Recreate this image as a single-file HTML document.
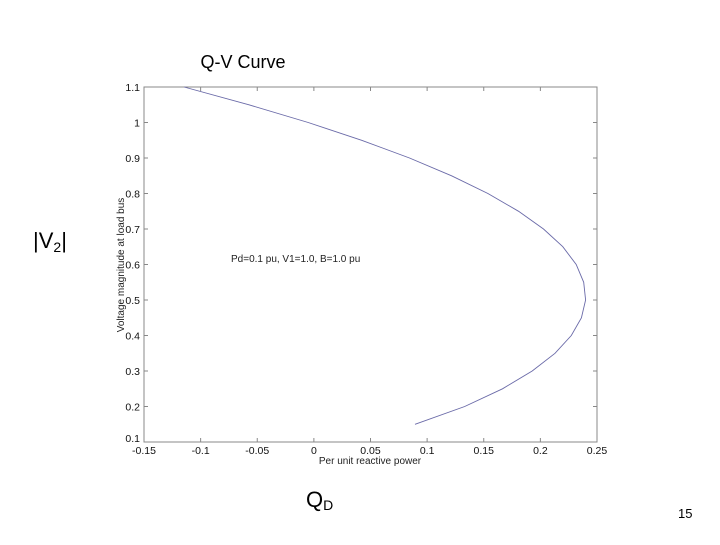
<!DOCTYPE html>
<html><head><meta charset="utf-8"><style>
body{margin:0;background:#fff;width:720px;height:540px;overflow:hidden;font-family:"Liberation Sans",sans-serif}
</style></head><body>
<svg width="720" height="540" xmlns="http://www.w3.org/2000/svg">
<text x="243" y="68" font-size="18" text-anchor="middle" fill="#000">Q-V Curve</text>
<text x="33" y="248" font-size="22" fill="#000">|V<tspan font-size="14" dy="4">2</tspan><tspan dy="-4">|</tspan></text>
<text x="306" y="507" font-size="22" fill="#000">Q<tspan font-size="14" dy="3">D</tspan></text>
<text x="678" y="518" font-size="13" fill="#000">15</text>
<g id="axes"></g>
<g id="series"></g>
<text x="231" y="262" font-size="10" fill="#222">Pd=0.1 pu, V1=1.0, B=1.0 pu</text>
<text transform="translate(124,265) rotate(-90)" font-size="10" text-anchor="middle" fill="#222">Voltage magnitude at load bus</text>
<text x="370" y="464" font-size="10" text-anchor="middle" fill="#222">Per unit reactive power</text>
</svg>
<script>
const xTicks=[-0.15,-0.1,-0.05,0,0.05,0.1,0.15,0.2,0.25];
const xTickLabels=["-0.15","-0.1","-0.05","0","0.05","0.1","0.15","0.2","0.25"];
const yTicks=[0.1,0.2,0.3,0.4,0.5,0.6,0.7,0.8,0.9,1,1.1];
const yTickLabels=["0.1","0.2","0.3","0.4","0.5","0.6","0.7","0.8","0.9","1","1.1"];
const voltage=[0.15,0.2,0.25,0.3,0.35,0.4,0.45,0.5,0.55,0.6,0.65,0.7,0.75,0.8,0.85,0.9,0.95,1.0,1.05,1.1];
const reactive=[0.0893,0.1332,0.1666,0.1928,0.2129,0.2273,0.2362,0.2399,0.2383,0.2316,0.2198,0.2028,0.1808,0.1537,0.1216,0.0844,0.0422,-0.0050,-0.0573,-0.1146];
const L=144,R=597,T=87,B=442;
const xs=v=>L+(v+0.15)/0.4*(R-L);
const ys=v=>B-(v-0.1)/1.0*(B-T);
const NS="http://www.w3.org/2000/svg";
const ax=document.getElementById('axes');
function mk(tag,attrs,parent){const e=document.createElementNS(NS,tag);for(const k in attrs)e.setAttribute(k,attrs[k]);parent.appendChild(e);return e;}
const box=mk('rect',{x:L,y:T,width:R-L,height:B-T,fill:'none',stroke:'#888','stroke-width':1},ax);


xTicks.forEach((v,i)=>{
  const x=xs(v);
  const t1=mk('line',{x1:x,x2:x,y1:B,y2:B-4,stroke:'#888'},ax);
  
  
  const t2=mk('line',{x1:x,x2:x,y1:T,y2:T+4,stroke:'#888'},ax);
  
  
  const tx=mk('text',{x:x,y:B+12,'font-size':10.5,'text-anchor':'middle',fill:'#111'},ax);
  tx.textContent=xTickLabels[i];
  
  
});
yTicks.forEach((v,i)=>{
  const y=ys(v);
  const t1=mk('line',{x1:L,x2:L+4,y1:y,y2:y,stroke:'#888'},ax);
  
  
  const t2=mk('line',{x1:R,x2:R-4,y1:y,y2:y,stroke:'#888'},ax);
  
  
  const tx=mk('text',{x:L-4,y:y+(i==0?0:4),'font-size':10.5,'text-anchor':'end',fill:'#111'},ax);
  tx.textContent=yTickLabels[i];
  
  
});
const pts=voltage.map((v,i)=>xs(reactive[i]).toFixed(1)+','+ys(v).toFixed(1)).join(' ');
const pl=mk('polyline',{points:pts,fill:'none',stroke:'#6a6aa8','stroke-width':0.9},document.getElementById('series'));


</script>
</body></html>
